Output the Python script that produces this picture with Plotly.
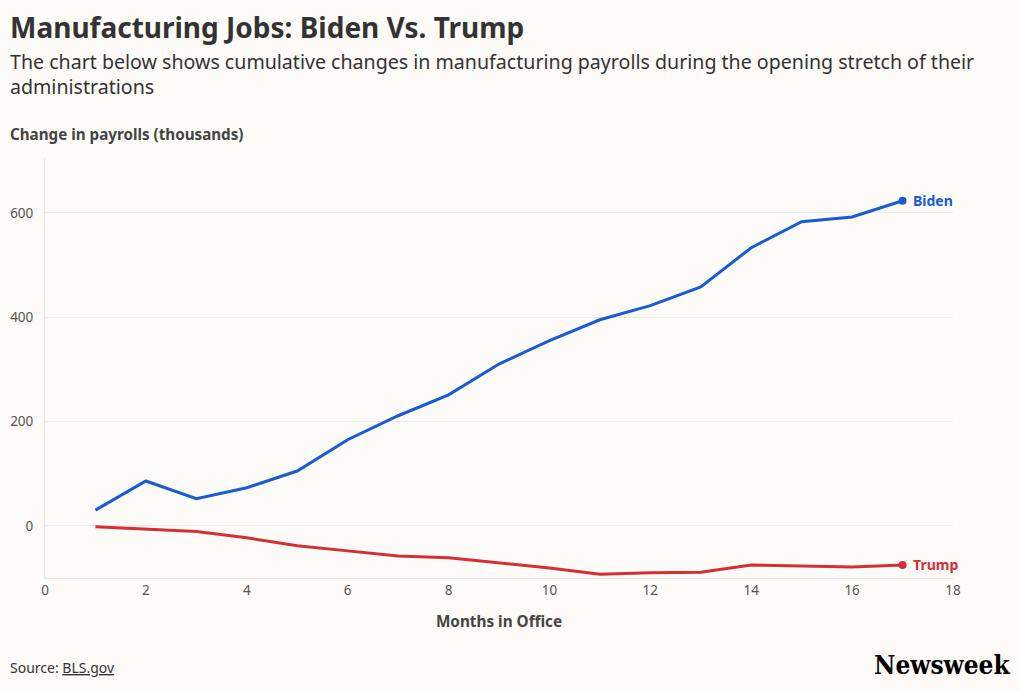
import plotly.graph_objects as go

months = list(range(1, 18))
biden = [30, 86, 52, 73, 105, 165, 211, 251, 310, 355, 395, 422, 458, 533, 583, 592, 623]
trump = [-2, -7, -11, -23, -38, -48, -58, -61, -71, -81, -93, -90, -89, -75, -77, -79, -75]
series_names = ["Biden", "Trump"]
colors = ["#1a5ad4", "#d42f36"]
x_ticks = list(range(0, 19, 2))
y_ticks = [0, 200, 400, 600]

FONT = "Noto Sans"
BG = "#fcfbf7"

fig = go.Figure()
label_annotations = []
for name, vals, c in zip(series_names, [biden, trump], colors):
    fig.add_trace(go.Scatter(x=months, y=vals, mode="lines", line=dict(color=c, width=3),
                             name=name, showlegend=False, hoverinfo="x+y"))
    fig.add_trace(go.Scatter(x=[months[-1]], y=[vals[-1]], mode="markers",
                             marker=dict(color=c, size=8),
                             showlegend=False, hoverinfo="skip"))
    label_annotations.append(dict(text="<b>" + name + "</b>", x=months[-1], y=vals[-1], xref="x", yref="y",
                                  showarrow=False, xanchor="left", yanchor="middle", xshift=8,
                                  font=dict(family=FONT, size=14, color=c)))

L, R, T, B = 45, 67, 158, 113
pw = 1020 - L - R
ph = 691 - T - B

def pap(px, py):
    return (px - L) / pw, (691 - B - py) / ph

texts = [
    ("<b>Manufacturing Jobs: Biden Vs. Trump</b>", 8, 27, 28, "#333", FONT, "left"),
    ("The chart below shows cumulative changes in manufacturing payrolls during the opening stretch of their<br>administrations",
     8, 74, 19.6, "#333", FONT, "left"),
    ("<b>Change in payrolls (thousands)</b>", 8, 134, 15.2, "#444", FONT, "left"),
    ("Source: <u>BLS.gov</u>", 8, 667, 14, "#333", FONT, "left"),
    ("<b>Newsweek</b>", 1012, 665, 26, "#000", "DejaVu Serif Condensed, DejaVu Serif, serif", "right"),
]
annotations = []
for t, px, py, sz, col, fam, anch in texts:
    ax, ay = pap(px, py)
    annotations.append(dict(text=t, x=ax, y=ay, xref="paper", yref="paper", showarrow=False,
                            xanchor=anch, yanchor="middle", align="left",
                            font=dict(size=sz, color=col, family=fam)))

fig.update_layout(
    width=1020, height=691,
    paper_bgcolor=BG, plot_bgcolor=BG,
    margin=dict(l=L, r=R, t=T, b=B, autoexpand=False),
    font=dict(family=FONT, color="#555"),
    xaxis=dict(range=[0, 18], tickvals=x_ticks, showgrid=False, zeroline=False, automargin=False,
               showline=True, linecolor="#e6e6e6", linewidth=1,
               tickfont=dict(size=13.5, color="#555"), ticks="", ticklen=0,
               title=dict(text="<b>Months in Office</b>", font=dict(size=15.3, color="#444"), standoff=18)),
    yaxis=dict(range=[-100, 705], tickvals=y_ticks, showgrid=True, gridcolor="#ebebeb", automargin=False,
               zeroline=False, showline=True, linecolor="#e6e6e6", linewidth=1,
               tickfont=dict(size=13.5, color="#555"), ticks="outside", ticklen=8, tickcolor="rgba(0,0,0,0)"),
    annotations=annotations + label_annotations,
)

fig.write_html("out.html")
